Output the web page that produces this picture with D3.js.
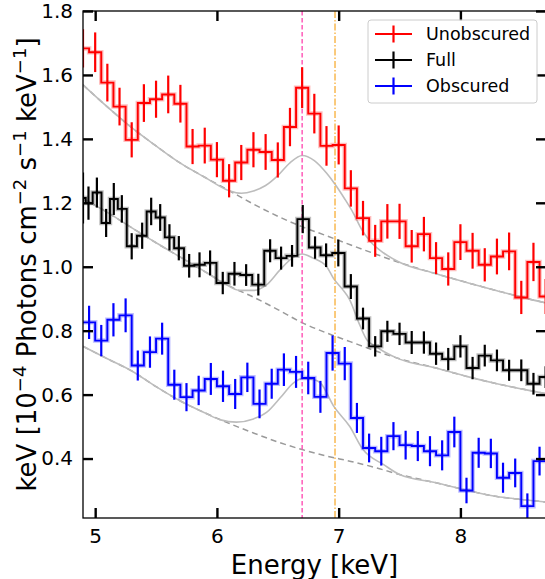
<!DOCTYPE html>
<html>
<head>
<meta charset="utf-8">
<script src="https://cdn.jsdelivr.net/npm/d3@7"></script>
<style>
  html, body { margin: 0; padding: 0; background: #fff; }
  svg { display: block; font-family: "DejaVu Sans", sans-serif; }
</style>
</head>
<body>
<svg id="chart" width="545" height="579"></svg>
<script>
// ---- Spectra (keV, 1e-4 photons cm^-2 s^-1 keV^-1) ----
const unobsE = [4.9,5.0,5.1,5.2,5.3,5.4,5.5,5.6,5.7,5.8,5.9,6.0,6.1,6.2,6.3,6.4,6.5,6.6,6.7,6.8,6.9,7.0,7.1,7.2,7.3,7.4,7.5,7.6,7.7,7.8,7.9,8.0,8.1,8.2,8.3,8.4,8.5,8.6,8.7];
const unobsV = [1.683,1.671,1.576,1.501,1.397,1.512,1.524,1.539,1.510,1.376,1.379,1.335,1.269,1.326,1.366,1.359,1.334,1.437,1.560,1.479,1.378,1.381,1.245,1.152,1.081,1.142,1.142,1.064,1.102,1.027,0.993,1.077,1.050,1.006,1.032,1.048,0.904,1.015,0.907];
const unobsErr = [0.060,0.062,0.059,0.059,0.055,0.059,0.058,0.059,0.059,0.055,0.056,0.055,0.052,0.055,0.055,0.056,0.055,0.060,0.064,0.062,0.062,0.061,0.057,0.054,0.050,0.054,0.055,0.051,0.054,0.050,0.052,0.056,0.056,0.052,0.056,0.059,0.052,0.060,0.055];

const fullE = [4.90,4.945,5.014,5.09,5.153,5.219,5.30,5.386,5.46,5.534,5.61,5.687,5.772,5.857,5.944,6.048,6.144,6.24,6.34,6.437,6.527,6.617,6.705,6.806,6.897,6.997,7.1,7.2,7.3,7.4,7.5,7.6,7.7,7.8,7.9,8.0,8.1,8.2,8.3,8.4,8.5,8.6,8.7];
const fullV = [1.215,1.199,1.232,1.137,1.212,1.181,1.064,1.097,1.173,1.154,1.092,1.058,1.003,1.006,1.012,0.949,0.978,0.974,0.944,1.050,1.027,1.034,1.149,1.060,1.036,1.043,0.938,0.838,0.751,0.798,0.790,0.763,0.763,0.728,0.711,0.751,0.683,0.722,0.707,0.676,0.676,0.634,0.655];
const fullErr = [0.080,0.052,0.047,0.044,0.050,0.043,0.041,0.041,0.043,0.042,0.041,0.038,0.037,0.039,0.039,0.035,0.037,0.034,0.034,0.036,0.036,0.034,0.044,0.035,0.037,0.042,0.039,0.034,0.032,0.033,0.035,0.036,0.035,0.035,0.035,0.035,0.035,0.034,0.034,0.033,0.034,0.034,0.034];

const obsE = [4.95,5.05,5.15,5.25,5.35,5.45,5.55,5.65,5.75,5.85,5.95,6.05,6.15,6.25,6.35,6.45,6.55,6.65,6.75,6.85,6.95,7.05,7.15,7.25,7.35,7.45,7.55,7.65,7.75,7.85,7.95,8.05,8.15,8.25,8.35,8.45,8.55,8.65];
const obsV = [0.826,0.769,0.834,0.848,0.691,0.733,0.775,0.631,0.592,0.613,0.649,0.626,0.602,0.654,0.571,0.634,0.678,0.671,0.652,0.593,0.730,0.697,0.527,0.433,0.423,0.470,0.442,0.439,0.423,0.410,0.483,0.300,0.418,0.416,0.340,0.355,0.251,0.392];
const obsErr = [0.052,0.049,0.052,0.053,0.047,0.049,0.050,0.047,0.044,0.046,0.050,0.049,0.047,0.046,0.045,0.047,0.051,0.050,0.051,0.050,0.055,0.052,0.047,0.045,0.045,0.044,0.045,0.047,0.047,0.047,0.048,0.040,0.047,0.046,0.047,0.045,0.040,0.045];

// ---- Fitted models (continuum + Fe lines) and continuum only ----
const unobsModelE = [4.9,5.1,5.3,5.5,5.7,5.9,6.1,6.2,6.3,6.4,6.5,6.6,6.7,6.8,6.9,6.97,7.05,7.12,7.19,7.26,7.37,7.5,7.8,8.05,8.3,8.5,8.7];
const unobsModelV = [1.569,1.500,1.435,1.378,1.324,1.280,1.238,1.230,1.237,1.254,1.285,1.325,1.348,1.332,1.293,1.258,1.212,1.168,1.116,1.079,1.043,1.014,0.978,0.951,0.925,0.905,0.887];
const unobsContE = [4.9,5.1,5.3,5.5,5.7,5.9,6.1,6.3,6.5,6.7,6.9,7.1,7.3,7.5,7.8,8.05,8.3,8.5,8.7];
const unobsContV = [1.569,1.500,1.435,1.378,1.324,1.280,1.238,1.196,1.158,1.125,1.097,1.068,1.040,1.013,0.978,0.951,0.925,0.905,0.887];

const fullModelE = [4.9,5.1,5.3,5.5,5.7,5.9,6.05,6.19,6.3,6.41,6.52,6.63,6.7,6.79,6.9,6.96,7.03,7.09,7.16,7.23,7.3,7.37,7.5,7.8,8.05,8.3,8.5,8.7];
const fullModelV = [1.212,1.170,1.122,1.075,1.030,0.985,0.950,0.926,0.926,0.944,0.991,1.030,1.040,1.027,1.001,0.962,0.930,0.897,0.830,0.772,0.752,0.735,0.711,0.683,0.657,0.634,0.618,0.603];
const fullContE = [4.9,5.1,5.3,5.5,5.7,5.9,6.1,6.3,6.5,6.7,6.9,7.1,7.3,7.5,7.8,8.05,8.3,8.5,8.7];
const fullContV = [1.212,1.170,1.122,1.075,1.030,0.985,0.940,0.905,0.866,0.825,0.793,0.765,0.737,0.712,0.683,0.657,0.634,0.618,0.603];

const obsModelE = [4.9,5.1,5.3,5.5,5.7,5.9,6.03,6.16,6.3,6.41,6.52,6.63,6.7,6.79,6.85,6.96,7.09,7.2,7.37,7.5,7.8,8.05,8.3,8.5,8.7];
const obsModelV = [0.751,0.712,0.674,0.625,0.580,0.543,0.521,0.514,0.524,0.545,0.590,0.637,0.650,0.647,0.637,0.563,0.501,0.428,0.381,0.350,0.324,0.301,0.281,0.272,0.264];
const obsContE = [4.9,5.1,5.3,5.5,5.7,5.9,6.1,6.3,6.5,6.7,6.9,7.1,7.3,7.5,7.8,8.05,8.3,8.5,8.7];
const obsContV = [0.751,0.712,0.674,0.625,0.580,0.543,0.510,0.480,0.452,0.428,0.408,0.391,0.372,0.350,0.324,0.301,0.281,0.272,0.264];

// Fe XXV and Fe XXVI line energies
const feLines = [6.7, 6.97];

// Axis ticks
const xTickValues = [5, 6, 7, 8];
const xTickLabels = ["5", "6", "7", "8"];
const yTickValues = [0.4, 0.6, 0.8, 1.0, 1.2, 1.4, 1.6, 1.8];
const yTickLabels = ["0.4", "0.6", "0.8", "1.0", "1.2", "1.4", "1.6", "1.8"];

const seriesNames = ["Unobscured", "Full", "Obscured"];
const seriesColors = ["#ff0000", "#000000", "#0000ff"];

// ---- Layout ----
const svg = d3.select("#chart");
const plot = { left: 83, right: 546, top: 11, bottom: 518 };

const x = d3.scaleLinear().domain([4.9, 8.703]).range([plot.left, plot.right]);
const y = d3.scaleLinear().domain([0.214, 1.8]).range([plot.bottom, plot.top]);

svg.append("defs").append("clipPath").attr("id", "plot-clip")
  .append("rect")
  .attr("x", plot.left).attr("y", plot.top)
  .attr("width", plot.right - plot.left).attr("height", plot.bottom - plot.top);

const g = svg.append("g").attr("clip-path", "url(#plot-clip)");

// Model curves
const curve = d3.line().x(d => x(d[0])).y(d => y(d[1])).curve(d3.curveMonotoneX);
const models = [
  [unobsContE, unobsContV, unobsModelE, unobsModelV],
  [fullContE, fullContV, fullModelE, fullModelV],
  [obsContE, obsContV, obsModelE, obsModelV]
];
models.forEach(([cE, cV, mE, mV]) => {
  g.append("path")
    .attr("d", curve(cE.map((e, i) => [e, cV[i]])))
    .attr("fill", "none").attr("stroke", "#9a9a9a")
    .attr("stroke-width", 1.5).attr("stroke-dasharray", "6,4");
  g.append("path")
    .attr("d", curve(mE.map((e, i) => [e, mV[i]])))
    .attr("fill", "none").attr("stroke", "#bdbdbd")
    .attr("stroke-width", 1.6);
});

// Line-energy markers
g.append("line")
  .attr("x1", x(feLines[0])).attr("x2", x(feLines[0]))
  .attr("y1", plot.top).attr("y2", plot.bottom)
  .attr("stroke", "#ff4fb4").attr("stroke-width", 1.4)
  .attr("stroke-dasharray", "4.5,2.5");
g.append("line")
  .attr("x1", x(feLines[1])).attr("x2", x(feLines[1]))
  .attr("y1", plot.top).attr("y2", plot.bottom)
  .attr("stroke", "#f8b445").attr("stroke-width", 1.4)
  .attr("stroke-dasharray", "7,2,1.5,2");

// Binned spectra: step outline through bin edges + vertical error bars
function stepPath(E, V) {
  const n = E.length;
  const edges = [];
  edges.push(E[0] - (E[1] - E[0]) / 2);
  for (let i = 1; i < n; i++) edges.push((E[i - 1] + E[i]) / 2);
  edges.push(E[n - 1] + (E[n - 1] - E[n - 2]) / 2);
  let d = `M${x(edges[0])},${y(V[0])}`;
  for (let i = 0; i < n; i++) {
    if (i > 0) d += `V${y(V[i])}`;
    d += `H${x(edges[i + 1])}`;
  }
  return d;
}

const spectra = [
  [unobsE, unobsV, unobsErr],
  [fullE, fullV, fullErr],
  [obsE, obsV, obsErr]
];
spectra.forEach(([E, V, Err], k) => {
  const col = seriesColors[k];
  const sg = g.append("g");
  sg.append("path").attr("d", stepPath(E, V))
    .attr("fill", "none").attr("stroke", col).attr("stroke-opacity", 0.25)
    .attr("stroke-width", 4.5);
  sg.append("path").attr("d", stepPath(E, V))
    .attr("fill", "none").attr("stroke", col).attr("stroke-width", 1.9);
  sg.selectAll("line.err").data(E).join("line")
    .attr("class", "err")
    .attr("x1", d => x(d)).attr("x2", d => x(d))
    .attr("y1", (d, i) => y(V[i] - Err[i]))
    .attr("y2", (d, i) => y(V[i] + Err[i]))
    .attr("stroke", col).attr("stroke-width", 2.2);
});

// ---- Axes: inward ticks on all four sides ----
const tickLen = 10;
const axisG = svg.append("g");
const xAxisB = d3.axisBottom(x).tickValues(xTickValues).tickSizeInner(-tickLen).tickSizeOuter(0)
  .tickFormat((d, i) => xTickLabels[i]).tickPadding(11);
const xAxisT = d3.axisTop(x).tickValues(xTickValues).tickSizeInner(-tickLen).tickSizeOuter(0)
  .tickFormat("");
const yAxisL = d3.axisLeft(y).tickValues(yTickValues).tickSizeInner(-tickLen).tickSizeOuter(0)
  .tickFormat((d, i) => yTickLabels[i]).tickPadding(10);
const yAxisR = d3.axisRight(y).tickValues(yTickValues).tickSizeInner(-tickLen).tickSizeOuter(0)
  .tickFormat("");

function styleAxis(sel) {
  sel.select(".domain").remove();
  sel.selectAll(".tick line").attr("stroke", "#000").attr("stroke-width", 2.4);
  sel.selectAll(".tick text").attr("fill", "#000")
    .attr("font-family", "DejaVu Sans").attr("font-size", 20);
}
axisG.append("g").attr("transform", `translate(0,${plot.bottom})`).call(xAxisB).call(styleAxis);
axisG.append("g").attr("transform", `translate(0,${plot.top})`).call(xAxisT).call(styleAxis);
axisG.append("g").attr("transform", `translate(${plot.left},0)`).call(yAxisL).call(styleAxis);
axisG.append("g").attr("transform", `translate(${plot.right},0)`).call(yAxisR).call(styleAxis);

// frame
axisG.append("rect")
  .attr("x", plot.left).attr("y", plot.top)
  .attr("width", plot.right - plot.left).attr("height", plot.bottom - plot.top)
  .attr("fill", "none").attr("stroke", "#000").attr("stroke-width", 1.3);

// Axis titles
svg.append("text")
  .attr("x", (plot.left + plot.right) / 2).attr("y", 574)
  .attr("text-anchor", "middle").attr("font-size", 26)
  .text("Energy [keV]");

const yTitle = svg.append("text")
  .attr("transform", `translate(36,${(plot.top + plot.bottom) / 2}) rotate(-90)`)
  .attr("text-anchor", "middle").attr("font-size", 26);
const ySegs = [
  ["keV [10", false], ["\u22124", true], [" Photons cm", false], ["\u22122", true],
  [" s", false], ["\u22121", true], [" keV", false], ["\u22121", true], ["]", false]
];
ySegs.forEach(([t, sup]) => {
  const ts = yTitle.append("tspan").text(t);
  if (sup) ts.attr("font-size", 18).attr("baseline-shift", "58%");
});

// ---- Legend ----
const leg = svg.append("g");
leg.append("rect")
  .attr("x", 368).attr("y", 20).attr("width", 169).attr("height", 83)
  .attr("rx", 3).attr("fill", "#fff").attr("fill-opacity", 0.8)
  .attr("stroke", "#cccccc").attr("stroke-width", 1);
seriesNames.forEach((name, i) => {
  const cy = 34 + i * 26;
  leg.append("line").attr("x1", 375).attr("x2", 412).attr("y1", cy).attr("y2", cy)
    .attr("stroke", seriesColors[i]).attr("stroke-width", 2);
  leg.append("line").attr("x1", 393.5).attr("x2", 393.5).attr("y1", cy - 8.5).attr("y2", cy + 8.5)
    .attr("stroke", seriesColors[i]).attr("stroke-width", 2.2);
  leg.append("text").attr("x", 426).attr("y", cy + 6.3)
    .attr("font-size", 17.5).attr("fill", "#000").text(name);
});
</script>
</body>
</html>
